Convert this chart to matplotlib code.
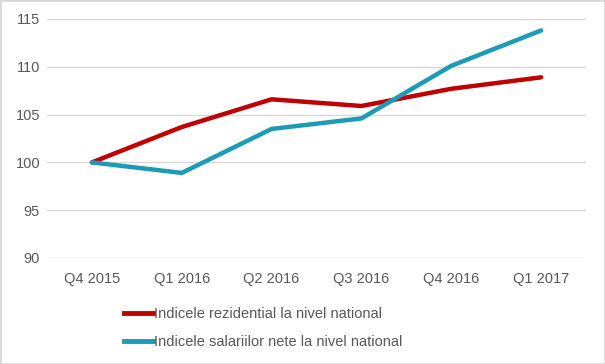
"""
Indicele rezidential vs indicele salariilor nete (Q4 2015 = 100)
"""
import matplotlib.pyplot as plt
from matplotlib.lines import Line2D
from matplotlib.patches import Rectangle

plt.rcParams["font.family"] = ["Liberation Sans", "DejaVu Sans"]

quarters = ["Q4 2015", "Q1 2016", "Q2 2016", "Q3 2016", "Q4 2016", "Q1 2017"]
rezidential = [100.0, 103.7, 106.6, 105.9, 107.7, 108.9]
salarii = [100.0, 98.9, 103.5, 104.6, 110.1, 113.8]
y_ticks = [90, 95, 100, 105, 110, 115]

RED = "#C00000"
TEAL = "#1B9BB5"
TXT = "#595959"
FS = 10.5

fig = plt.figure(figsize=(6.05, 3.64), dpi=100)
ax = fig.add_axes([47 / 605, 1 - 258 / 364, 539 / 605, 239 / 364])

x = range(len(quarters))
ax.plot(x, rezidential, color=RED, lw=3.2, solid_capstyle="round",
        label="Indicele rezidential la nivel national")
ax.plot(x, salarii, color=TEAL, lw=3.2, solid_capstyle="round",
        label="Indicele salariilor nete la nivel national")

ax.set_xlim(-0.5, len(quarters) - 0.5)
ax.set_ylim(90, 115)
ax.set_yticks(y_ticks)
ax.set_xticks(list(x))
ax.set_xticklabels(quarters)
ax.grid(axis="y", color="#D9D9D9", lw=1)
ax.set_axisbelow(True)
for s in ax.spines.values():
    s.set_visible(False)
ax.tick_params(length=0, labelsize=FS, labelcolor=TXT)
ax.tick_params(axis="x", pad=10)
ax.tick_params(axis="y", pad=5)

handles = [Line2D([], [], color=RED, lw=3.5),
           Line2D([], [], color=TEAL, lw=3.5)]
fig.legend(handles, [l.get_label() for l in ax.get_lines()],
           loc="center", bbox_to_anchor=(263 / 605, 1 - 328 / 364),
           ncol=1, frameon=False, fontsize=FS, labelcolor=TXT,
           handlelength=2.0, handletextpad=0.1, labelspacing=0.95)

fig.patches.append(Rectangle((0, 0), 1, 1, transform=fig.transFigure,
                             fill=False, edgecolor="#D9D9D9", lw=2))

plt.savefig("out.png", dpi=100)
plt.close()
